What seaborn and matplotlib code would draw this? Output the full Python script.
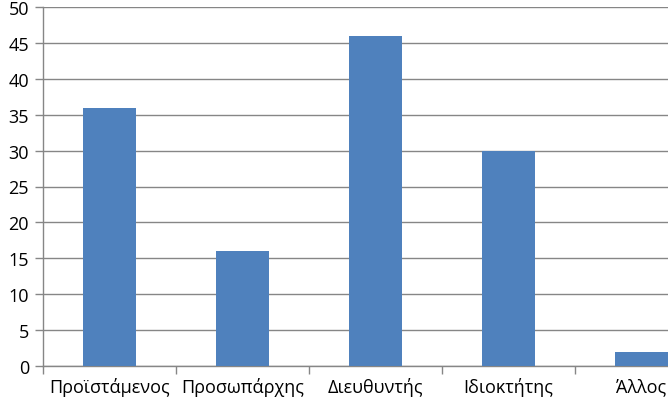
import matplotlib
matplotlib.use("Agg")
import matplotlib.pyplot as plt
import seaborn as sns
import pandas as pd
from matplotlib.ticker import MultipleLocator, FixedLocator

# data
categories = ['Προϊστάμενος', 'Προσωπάρχης', 'Διευθυντής', 'Ιδιοκτήτης', 'Άλλος']
values = [36, 16, 46, 30, 2]

df = pd.DataFrame({'role': categories, 'count': values})

sns.set_style('white')
plt.rcParams['font.family'] = ['Open Sans', 'DejaVu Sans']

fig = plt.figure(figsize=(6.68, 4.10), dpi=100)
ax = fig.add_axes([43 / 668, 43 / 410, 1 - 43 / 668, (367 - 8) / 410])

sns.barplot(data=df, x='role', y='count', color='#4F81BD', saturation=1,
            width=0.4, linewidth=0, ax=ax, zorder=3)

ax.set_ylim(0, 50)
ax.set_xlim(-0.5, 4.2)
ax.yaxis.set_major_locator(MultipleLocator(5))
ax.yaxis.grid(True, color='#868686', linewidth=1, zorder=0)
ax.set_axisbelow(True)

for side in ['top', 'right']:
    ax.spines[side].set_visible(False)
for side in ['left', 'bottom']:
    ax.spines[side].set_color('#868686')
    ax.spines[side].set_linewidth(1)

ax.set_xlabel('')
ax.set_ylabel('')
ax.tick_params(axis='y', which='major', length=6, width=1, color='#868686',
               labelsize=13, labelcolor='black', pad=4, left=True)
ax.tick_params(axis='x', which='major', length=0, labelsize=13,
               labelcolor='black', pad=8)
ax.xaxis.set_minor_locator(FixedLocator([-0.5, 0.5, 1.5, 2.5, 3.5]))
ax.tick_params(axis='x', which='minor', length=6, width=1, color='#868686', bottom=True)

fig.savefig('out.png', dpi=100)
